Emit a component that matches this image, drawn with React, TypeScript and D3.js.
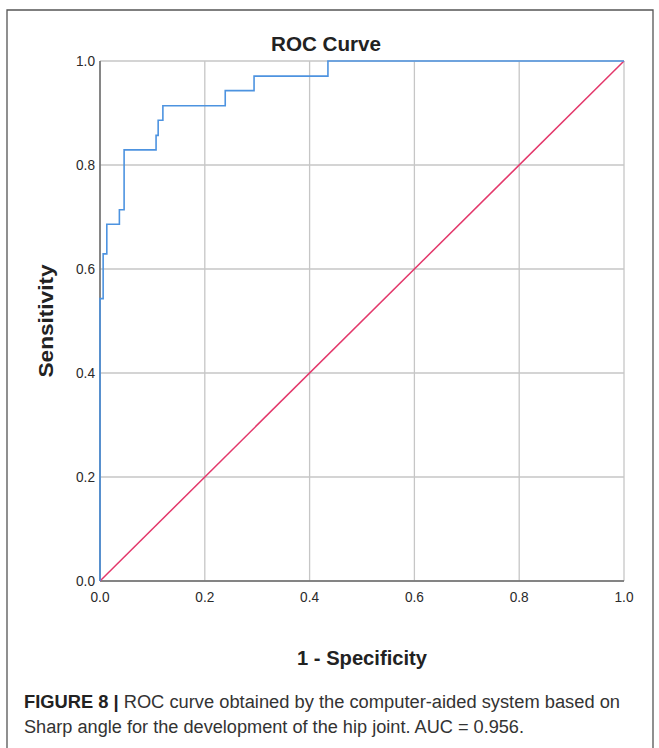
import React from 'react'
import * as d3 from 'd3'

// ROC operating points (1 - specificity, sensitivity)
const fpr = [0, 0, 0.006, 0.013, 0.037, 0.046, 0.107, 0.111, 0.12, 0.239, 0.294, 0.435, 1]
const tpr = [0, 0.543, 0.629, 0.686, 0.714, 0.829, 0.857, 0.886, 0.914, 0.943, 0.971, 1, 1]
const refLine = [0, 1]
const ticks = [0, 0.2, 0.4, 0.6, 0.8, 1.0]

const title = 'ROC Curve'
const xTitle = '1 - Specificity'
const yTitle = 'Sensitivity'
const captionBold = 'FIGURE 8 |'
const captionLine1 = ' ROC curve obtained by the computer-aided system based on'
const captionLine2 = 'Sharp angle for the development of the hip joint. AUC = 0.956.'

const W = 659
const H = 748
const plot = { left: 100, right: 624, top: 61, bottom: 581 }

export default function App() {
  const x = d3.scaleLinear().domain([0, 1]).range([plot.left, plot.right])
  const y = d3.scaleLinear().domain([0, 1]).range([plot.bottom, plot.top])

  const pts: [number, number][] = fpr.map((f, i) => [f, tpr[i]])
  const roc = d3.line<[number, number]>()
    .x(d => x(d[0]))
    .y(d => y(d[1]))
    .curve(d3.curveStepAfter)(pts) || ''
  const diag = d3.line<number>().x(d => x(d)).y(d => y(d))(refLine) || ''

  const font = 'Liberation Sans, Arial, sans-serif'
  const cx = (plot.left + plot.right) / 2
  const cy = (plot.top + plot.bottom) / 2
  const squeeze = 'spacingAndGlyphs'

  return (
    <svg width={W} height={H} style={{ position: 'absolute', left: 0, top: 0, background: '#fff' }}
      fontFamily={font}>
      <rect x={0} y={0} width={W} height={H} fill="#fff" />
      {/* figure frame, open at the bottom */}
      <path d={`M7,${H + 5}V10H653V${H + 5}`} fill="none" stroke="#555" strokeWidth={1.3} />

      {/* title is centred over the whole chart, not the plot area */}
      <text x={326} y={51} textAnchor="middle" fontSize={20} fontWeight="bold" fill="#222"
        textLength={110} lengthAdjust={squeeze}>{title}</text>

      {/* grid */}
      {ticks.map(t => (
        <g key={'g' + t}>
          <line x1={x(t)} x2={x(t)} y1={plot.top} y2={plot.bottom} stroke="#c6c6c6" strokeWidth={1.3} />
          <line x1={plot.left} x2={plot.right} y1={y(t)} y2={y(t)} stroke="#c6c6c6" strokeWidth={1.3} />
        </g>
      ))}
      {/* axes */}
      <line x1={plot.left} x2={plot.left} y1={plot.top} y2={plot.bottom} stroke="#6a6a6a" strokeWidth={1.5} />
      <line x1={plot.left} x2={plot.right} y1={plot.bottom} y2={plot.bottom} stroke="#6a6a6a" strokeWidth={1.5} />

      {ticks.map(t => (
        <text key={'yt' + t} x={95} y={y(t) + 5} textAnchor="end" fontSize={14} fill="#2a2a2a"
          textLength={19} lengthAdjust={squeeze}>{t.toFixed(1)}</text>
      ))}
      {ticks.map(t => (
        <text key={'xt' + t} x={x(t)} y={602} textAnchor="middle" fontSize={14} fill="#2a2a2a"
          textLength={19} lengthAdjust={squeeze}>{t.toFixed(1)}</text>
      ))}

      <path d={diag} fill="none" stroke="#e3386b" strokeWidth={1.5} />
      <path d={roc} fill="none" stroke="#4d93e0" strokeWidth={1.6} />

      <text x={cx} y={665} textAnchor="middle" fontSize={20} fontWeight="bold" fill="#222"
        textLength={130} lengthAdjust={squeeze}>{xTitle}</text>
      <text transform={`translate(53,${cy}) rotate(-90)`} textAnchor="middle" fontSize={20} fontWeight="bold" fill="#222"
        textLength={113} lengthAdjust={squeeze}>{yTitle}</text>

      <text x={24} y={708} fontSize={18} fill="#333" textLength={596} lengthAdjust={squeeze}>
        <tspan fontWeight="bold" fill="#222">{captionBold}</tspan>
        <tspan>{captionLine1}</tspan>
      </text>
      <text x={24} y={733} fontSize={18} fill="#333" textLength={500} lengthAdjust={squeeze}>{captionLine2}</text>
    </svg>
  )
}
